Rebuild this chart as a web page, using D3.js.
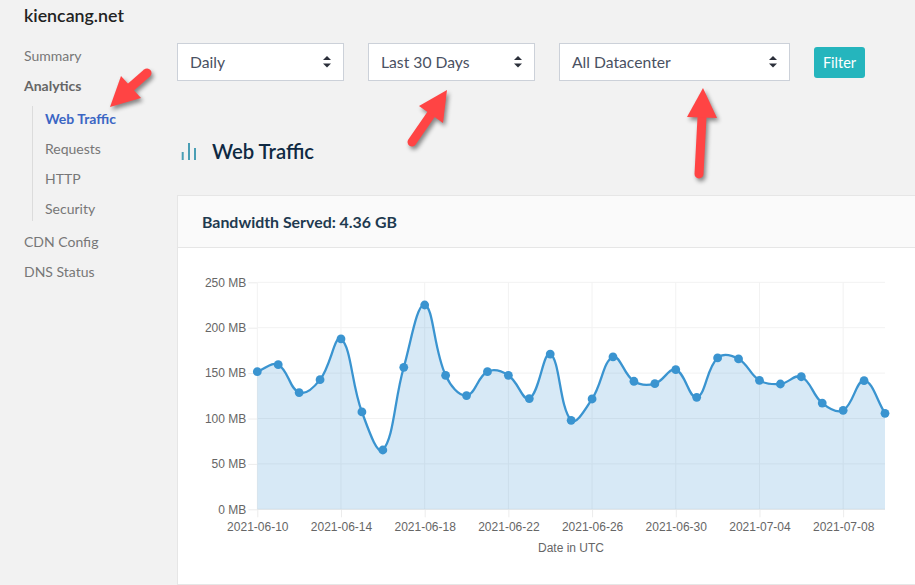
<!DOCTYPE html>
<html>
<head>
<meta charset="utf-8">
<script src="https://cdn.jsdelivr.net/npm/d3@7"></script>
<style>
html, body { margin: 0; padding: 0; background: #f2f2f2; overflow: hidden; }
text { font-family: Lato, sans-serif; }
.chart text { font-family: "Liberation Sans", Arial, sans-serif; font-size: 12px; fill: #666; }
</style>
</head>
<body>
<div id="graph"></div>
<script>
// values
const days = ['2021-06-10', '2021-06-11', '2021-06-12', '2021-06-13', '2021-06-14', '2021-06-15', '2021-06-16', '2021-06-17',
    '2021-06-18', '2021-06-19', '2021-06-20', '2021-06-21', '2021-06-22', '2021-06-23', '2021-06-24', '2021-06-25',
    '2021-06-26', '2021-06-27', '2021-06-28', '2021-06-29', '2021-06-30', '2021-07-01', '2021-07-02', '2021-07-03',
    '2021-07-04', '2021-07-05', '2021-07-06', '2021-07-07', '2021-07-08', '2021-07-09', '2021-07-10'];
const bandwidth = [151.6, 159.3, 128.5, 142.8, 187.6, 107.2, 65.3, 156.4,
    225, 147.6, 125.2, 151.6, 147.6, 121.9, 171, 98,
    121.5, 167.8, 141, 138.4, 153.8, 123.3, 166.7, 165.6,
    142, 138, 146, 117, 109, 141.7, 105.7];
const dateTicks = ['2021-06-10', '2021-06-14', '2021-06-18', '2021-06-22', '2021-06-26', '2021-06-30', '2021-07-04', '2021-07-08'];
const mbTicks = [0, 50, 100, 150, 200, 250];

const navTop = ['Summary', 'Analytics'];
const navSub = ['Web Traffic', 'Requests', 'HTTP', 'Security'];
const navBottom = ['CDN Config', 'DNS Status'];
const selects = [
    { label: 'Daily', x: 177.5, w: 166 },
    { label: 'Last 30 Days', x: 368.5, w: 166 },
    { label: 'All Datacenter', x: 559.5, w: 230 }
];
const arrows = [
    { tail: [147, 73], tip: [110, 107], a: [121, 76], b: [141, 98] },
    { tail: [412, 142], tip: [447, 90], a: [419, 106], b: [443, 123] },
    { tail: [699, 174], tip: [703, 88], a: [687, 117], b: [717, 118] }
];

const width = 915;
const height = 585;
const svg = d3.select('#graph').append('svg').attr('width', width).attr('height', height).style('display', 'block');

// sidebar
svg.append('text').attr('x', 24).attr('y', 22).attr('font-size', 17.8).attr('font-weight', 600).attr('fill', '#222').text('kiencang.net');

navTop.forEach((d, i) => {
    svg.append('text').attr('x', 24).attr('y', 61 + i * 30).attr('font-size', 14)
        .attr('font-weight', i === 1 ? 700 : 400).attr('fill', i === 1 ? '#666' : '#777').text(d);
});
navSub.forEach((d, i) => {
    svg.append('text').attr('x', 45).attr('y', 124 + i * 30).attr('font-size', 14)
        .attr('font-weight', i === 0 ? 700 : 400).attr('fill', i === 0 ? '#3b66c4' : '#777').text(d);
});
navBottom.forEach((d, i) => {
    svg.append('text').attr('x', 24).attr('y', 247 + i * 30).attr('font-size', 14).attr('fill', '#777').text(d);
});
svg.append('line').attr('x1', 32.5).attr('x2', 32.5).attr('y1', 106).attr('y2', 221).attr('stroke', '#dcdcdc');

// filter row
selects.forEach(s => {
    svg.append('rect').attr('x', s.x).attr('y', 43.5).attr('width', s.w).attr('height', 37)
        .attr('fill', '#fff').attr('stroke', '#ccd1d9');
    svg.append('text').attr('x', s.x + 12.5).attr('y', 68).attr('font-size', 15.7).attr('fill', '#4a5162').text(s.label);
    const cx = s.x + s.w - 16.5;
    svg.append('path').attr('d', `M${cx - 4},60 L${cx},56 L${cx + 4},60 Z M${cx - 4},63.5 L${cx},67.5 L${cx + 4},63.5 Z`).attr('fill', '#2b2f3a');
});
svg.append('rect').attr('x', 814).attr('y', 47).attr('width', 51).attr('height', 31).attr('rx', 3).attr('fill', '#25b5bd');
svg.append('text').attr('x', 839.5).attr('y', 68).attr('text-anchor', 'middle').attr('font-size', 14.5).attr('font-weight', 400).attr('fill', '#fff').text('Filter');

// section title
[[182.7, 152], [189, 143], [195, 148]].forEach(b => {
    svg.append('line').attr('x1', b[0]).attr('x2', b[0]).attr('y1', b[1]).attr('y2', 160)
        .attr('stroke', '#4a9fb5').attr('stroke-width', 2);
});
svg.append('text').attr('x', 212).attr('y', 159).attr('font-size', 20.3).attr('font-weight', 600).attr('fill', '#0f2a43').text('Web Traffic');

// card
svg.append('rect').attr('x', 177.5).attr('y', 195.5).attr('width', 760).attr('height', 389).attr('fill', '#fff').attr('stroke', '#e6e6e6');
svg.append('rect').attr('x', 177.5).attr('y', 195.5).attr('width', 760).attr('height', 52).attr('fill', '#fafafa').attr('stroke', '#e6e6e6');
svg.append('text').attr('x', 202).attr('y', 228).attr('font-size', 15.9).attr('font-weight', 700).attr('fill', '#1f3a50').text('Bandwidth Served: 4.36 GB');

// chart
const parseDay = d3.utcParse('%Y-%m-%d');
const formatDay = d3.utcFormat('%Y-%m-%d');
const series = days.map((d, i) => ({ date: parseDay(d), value: bandwidth[i] }));

const x = d3.scaleUtc().domain(d3.extent(series, d => d.date)).range([257.3, 885]);
const y = d3.scaleLinear().domain([0, 250]).range([509.3, 282.3]);

const chart = svg.append('g').attr('class', 'chart');

const xAxis = chart.append('g').attr('transform', `translate(0,${y(0)})`)
    .call(d3.axisBottom(x).tickValues(dateTicks.map(parseDay)).tickFormat(formatDay)
        .tickSize(8).tickSizeOuter(0).tickPadding(5));
const yAxis = chart.append('g').attr('transform', `translate(${x.range()[0]},0)`)
    .call(d3.axisLeft(y).tickValues(mbTicks).tickFormat(d => d + ' MB')
        .tickSize(9).tickSizeOuter(0).tickPadding(2));
xAxis.select('.domain').remove();
yAxis.select('.domain').remove();
xAxis.selectAll('line').attr('stroke', '#ececec');
yAxis.selectAll('line').attr('stroke', '#ececec');

// grid goes under the translucent fill
chart.append('g').selectAll('line').data(dateTicks).enter().append('line')
    .attr('x1', d => x(parseDay(d))).attr('x2', d => x(parseDay(d)))
    .attr('y1', y(250)).attr('y2', y(0))
    .attr('stroke', '#f2f2f2');
chart.append('g').selectAll('line').data(mbTicks).enter().append('line')
    .attr('x1', x.range()[0]).attr('x2', x.range()[1])
    .attr('y1', d => y(d)).attr('y2', d => y(d))
    .attr('stroke', d => d === 0 ? '#e6e6e6' : '#f2f2f2');

// same bezier rule as a tension 0.4 spline: handles scaled by neighbour distance
function splineCurve(context) {
    let pts = [];
    return {
        areaStart() {},
        areaEnd() {},
        lineStart() { pts = []; },
        point(px, py) { pts.push([+px, +py]); },
        lineEnd() {
            const t = 0.4;
            const handles = pts.map((p, i) => {
                const prev = pts[i - 1] || p;
                const next = pts[i + 1] || p;
                const d01 = Math.hypot(p[0] - prev[0], p[1] - prev[1]);
                const d12 = Math.hypot(next[0] - p[0], next[1] - p[1]);
                const sum = (d01 + d12) || 1;
                const fa = t * d01 / sum;
                const fb = t * d12 / sum;
                return {
                    before: [p[0] - fa * (next[0] - prev[0]), p[1] - fa * (next[1] - prev[1])],
                    after: [p[0] + fb * (next[0] - prev[0]), p[1] + fb * (next[1] - prev[1])]
                };
            });
            pts.forEach((p, i) => {
                if (i === 0) {
                    context.moveTo(p[0], p[1]);
                } else {
                    const c1 = handles[i - 1].after;
                    const c2 = handles[i].before;
                    context.bezierCurveTo(c1[0], c1[1], c2[0], c2[1], p[0], p[1]);
                }
            });
        }
    };
}

const lineGen = d3.line().x(d => x(d.date)).y(d => y(d.value)).curve(splineCurve);
const linePath = lineGen(series);
const areaPath = `${linePath}L${x(series[series.length - 1].date)},${y(0)}L${x(series[0].date)},${y(0)}Z`;

chart.append('path').attr('d', areaPath).attr('fill', 'rgba(55,145,210,0.2)');
chart.append('path').attr('d', linePath).attr('fill', 'none').attr('stroke', '#3a94d0').attr('stroke-width', 2.3);
chart.append('g').selectAll('circle').data(series).enter().append('circle')
    .attr('cx', d => x(d.date)).attr('cy', d => y(d.value)).attr('r', 4.4).attr('fill', '#3a94d0');

chart.append('text').attr('x', 571).attr('y', 552).attr('text-anchor', 'middle').text('Date in UTC');

// red annotation arrows
const arrowGroup = svg.append('g').style('filter', 'drop-shadow(2px 3px 2px rgba(0,0,0,0.45))');
arrows.forEach(a => {
    const neck = [(a.a[0] + a.b[0]) / 2, (a.a[1] + a.b[1]) / 2];
    arrowGroup.append('line').attr('x1', a.tail[0]).attr('y1', a.tail[1]).attr('x2', neck[0]).attr('y2', neck[1])
        .attr('stroke', '#ff4444').attr('stroke-width', 9).attr('stroke-linecap', 'round');
    arrowGroup.append('path').attr('d', `M${a.tip}L${a.a}L${a.b}Z`).attr('fill', '#ff4444');
});
</script>
</body>
</html>
